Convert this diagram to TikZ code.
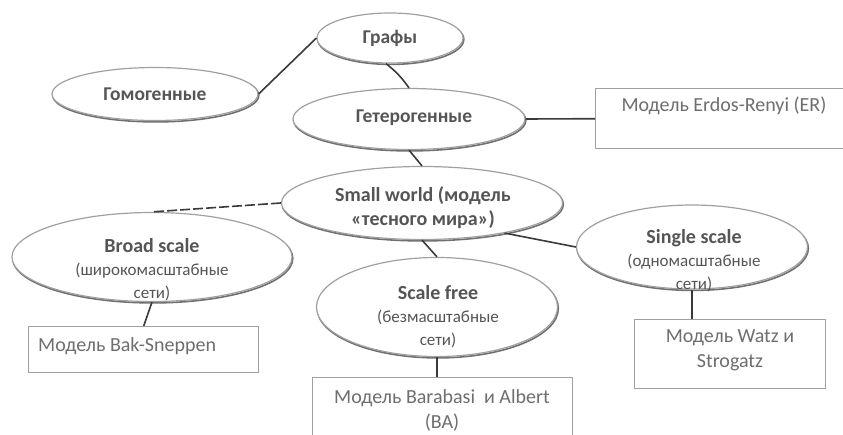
\documentclass[tikz,border=0pt]{standalone}
\usepackage{fontspec}
\setmainfont{Carlito}
\usetikzlibrary{shapes.geometric}
\definecolor{elltext}{HTML}{555555}
\definecolor{boxtext}{HTML}{6E6E6E}
\definecolor{ellline}{HTML}{A0A0A0}
\definecolor{ellshadow}{HTML}{707070}
\definecolor{conn}{HTML}{3A3A3A}
\begin{document}
\begin{tikzpicture}[x=1pt,y=-1pt,
  ell/.style={ellipse, draw=ellline, line width=1.2pt, fill=white, inner sep=0pt,
    preaction={draw=ellshadow, line width=1.6pt, transform canvas={shift={(0.8pt,-1.4pt)}}}},
  etxt/.style={text=elltext, align=center, inner sep=0pt, font=\fontsize{17}{23}\selectfont},
  hd/.style={text=elltext, inner sep=0pt, font=\fontsize{19.5}{23}\selectfont\bfseries},
  box/.style={rectangle, draw=ellline, line width=1.4pt, fill=white, inner sep=0pt, anchor=north west},
  btxt/.style={text=boxtext, align=center, inner sep=0pt, font=\fontsize{20}{25}\selectfont},
  link/.style={draw=conn, line width=1.6pt},
  dlink/.style={draw=conn, line width=1.6pt, dash pattern=on 10pt off 3pt}
]
\useasboundingbox (0,0) rectangle (843,434);
\fill[white] (0,0) rectangle (843,434);

% ellipses
\node[ell, minimum width=146pt, minimum height=50pt] (grafy) at (390,38) {};
\node[ell, minimum width=206pt, minimum height=53pt] (homo) at (155,94) {};
\node[ell, minimum width=232pt, minimum height=61pt] (hetero) at (409,119) {};
\node[ell, minimum width=281pt, minimum height=73pt] (small) at (422,203) {};
\node[ell, minimum width=280pt, minimum height=89pt] (broad) at (152,257) {};
\node[ell, minimum width=241pt, minimum height=99pt] (free) at (437,307) {};
\node[ell, minimum width=231pt, minimum height=84pt] (single) at (692,247) {};

% boxes
\node[box, minimum width=270pt, minimum height=60pt] (er) at (595,88) {};
\node[box, minimum width=230pt, minimum height=46pt] (bak) at (28,326) {};
\node[box, minimum width=260pt, minimum height=80pt] (ba) at (312,377) {};
\node[box, minimum width=191pt, minimum height=69pt] (ws) at (634,319) {};

% ellipse texts
\node[hd] (tgrafy) at (390,38) {Графы};
\node[hd] (thomo) at (155,94) {Гомогенные};
\node[hd] (thetero) at (414,118) {Гетерогенные};
\node[hd, align=center, font=\fontsize{20}{24}\selectfont\bfseries] (tsmall) at (423,208) {Small world (модель\\«тесного мира»)};
\node[etxt] (tbroad) at (152,270) {{\fontsize{20}{23}\selectfont\bfseries Broad scale}\\(широкомасштабные\\сети)};
\node[etxt] (tfree) at (438,317) {{\fontsize{20}{23}\selectfont\bfseries Scale free}\\(безмасштабные\\сети)};
\node[etxt] (tsingle) at (694,261) {{\fontsize{20}{23}\selectfont\bfseries Single scale}\\(одномасштабные\\сети)};

% box texts
\node[btxt] (ter) at (724,106) {Модель Erdos-Renyi (ER)};
\node[btxt, anchor=west] (tbak) at (38,346) {Модель Bak-Sneppen};
\node[btxt] (tba) at (442,410) {Модель Barabasi\ \ и Albert\\(BA)};
\node[btxt] (tws) at (730,350) {Модель Watz и\\Strogatz};

% connectors
\draw[link] (homo.east) -- (grafy.west);
\draw[link] (grafy.south) ++(-4,0) coordinate (g1) (g1) to[bend left=8] (hetero.north);
\draw[link] (hetero.east) -- (er.west);
\draw[link] (hetero.south) -- (small.north);
\draw[dlink] (small.west) -- (broad.north);
\draw[link] (small.-20) -- (single.west);
\draw[link] (small.south) -- (free.north);
\draw[link] (broad.south) -- (bak.north);
\draw[link] (free.south) -- (ba.north -| free.south);
\draw[link] (single.south) -- (ws.north -| single.south);
\end{tikzpicture}
\end{document}
